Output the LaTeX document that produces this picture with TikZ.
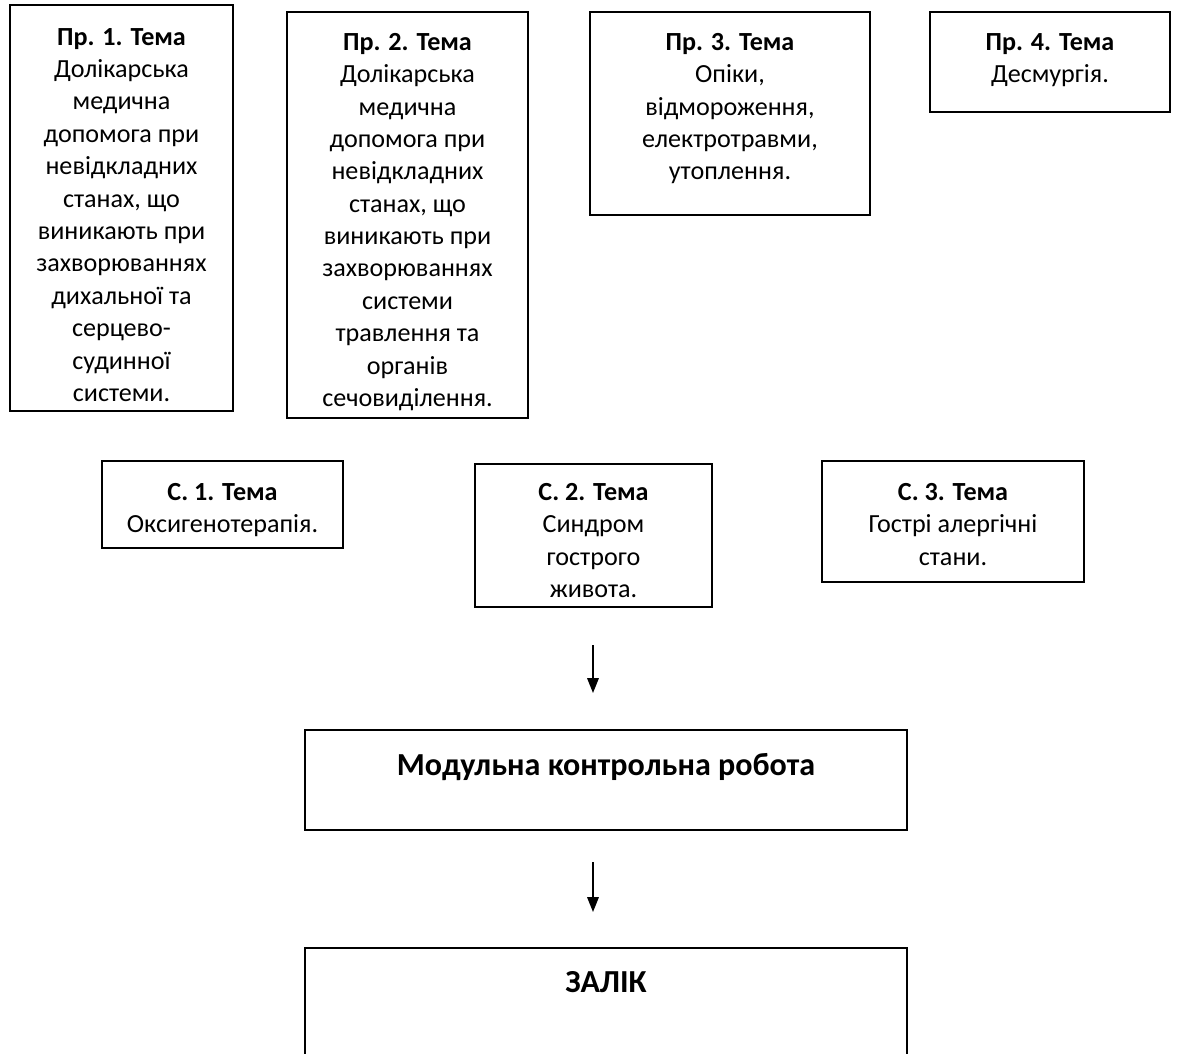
\documentclass[tikz,border=0pt]{standalone}
\usepackage{fontspec}
\setmainfont{Carlito}
\usetikzlibrary{arrows.meta,positioning,fit,calc}
\tikzset{
  topicbox/.style={draw=black, line width=0.9pt, inner sep=0pt},
  topictext/.style={anchor=north, align=center, inner sep=0pt,
    font=\fontsize{15.8}{19.6}\selectfont},
  controltext/.style={anchor=north, align=center, inner sep=0pt,
    font=\fontsize{19.4}{22}\selectfont\bfseries},
  flow/.style={-{Triangle[length=9pt, width=7pt]}, line width=0.9pt}
}

\begin{document}
\begin{tikzpicture}[x=0.605pt, y=-0.605pt]
\clip (0,0) rectangle (1180,1054);

% practical classes
\node[topicbox, fit={(10,5) (233,411)}] (pr1) {};
\node[topictext] (pr1t) at ($(pr1.north)+(0,23.5)$) {\textbf{Пр. 1. Тема}\\Долікарська\\медична\\допомога при\\невідкладних\\станах, що\\виникають при\\захворюваннях\\дихальної та\\серцево-\\судинної\\системи.};
\node[topicbox, fit={(287,12) (528,418)}] (pr2) {};
\node[topictext] (pr2t) at ($(pr2.north)+(0,21.5)$) {\textbf{Пр. 2. Тема}\\Долікарська\\медична\\допомога при\\невідкладних\\станах, що\\виникають при\\захворюваннях\\системи\\травлення та\\органів\\сечовиділення.};
\node[topicbox, fit={(590,12) (870,215)}] (pr3) {};
\node[topictext] (pr3t) at ($(pr3.north)+(0,21.5)$) {\textbf{Пр. 3. Тема}\\Опіки,\\відмороження,\\електротравми,\\утоплення.};
\node[topicbox, fit={(930,12) (1170,112)}] (pr4) {};
\node[topictext] (pr4t) at ($(pr4.north)+(0,21.5)$) {\textbf{Пр. 4. Тема}\\Десмургія.};

% self-study topics
\node[topicbox, fit={(102,461) (343,548)}] (c1) {};
\node[topictext] (c1t) at ($(c1.north)+(0,22.5)$) {\textbf{С. 1. Тема}\\Оксигенотерапія.};
\node[topicbox, fit={(475,464) (712,607)}] (c2) {};
\node[topictext] (c2t) at ($(c2.north)+(0,19.5)$) {\textbf{С. 2. Тема}\\Синдром\\гострого\\живота.};
\node[topicbox, fit={(822,461) (1084,582)}] (c3) {};
\node[topictext] (c3t) at ($(c3.north)+(0,22.5)$) {\textbf{С. 3. Тема}\\Гострі алергічні\\стани.};

% control
\node[topicbox, fit={(305,730) (907,830)}] (mkr) {};
\node[controltext] (mkrt) at ($(mkr.north)+(0,24)$) {Модульна контрольна робота};
\node[topicbox, fit={(305,948) (907,1080)}] (zalik) {};
\node[controltext] (zalikt) at ($(zalik.north)+(0,24)$) {ЗАЛІК};

\coordinate (a1top) at (593,645);
\coordinate (a1tip) at (593,693);
\coordinate (a2top) at (593,862);
\coordinate (a2tip) at (593,912);
\draw[flow] (a1top) -- (a1tip);
\draw[flow] (a2top) -- (a2tip);
\end{tikzpicture}
\end{document}
